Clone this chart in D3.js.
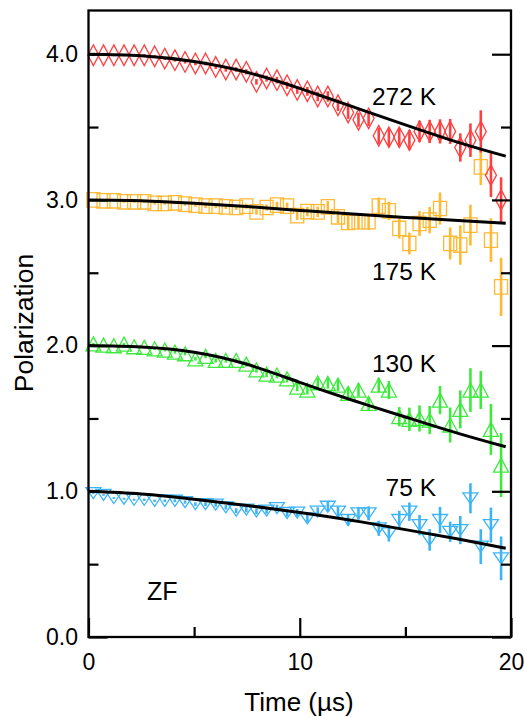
<!DOCTYPE html>
<html>
<head>
<meta charset="utf-8">
<script src="https://cdn.jsdelivr.net/npm/d3@7"></script>
<style>
  body { margin: 0; background: #fff; }
  text { font-family: "Liberation Sans", Arial, sans-serif; fill: #000; }
</style>
</head>
<body>
<svg id="chart" width="524" height="717"></svg>
<script>
// Time bins (µs)
const times = [0.23,0.71,1.2,1.68,2.16,2.64,3.13,3.61,4.09,4.57,5.06,5.54,6.02,6.5,6.99,7.47,7.95,8.43,8.92,9.4,
  9.88,10.36,10.85,11.33,11.81,12.29,12.78,13.26,13.74,14.22,14.71,15.19,15.67,16.15,16.64,17.12,17.6,18.08,18.57,19.05,19.53];

// Polarization (offset by temperature) and error bars
const pol272 = [3.993,3.993,3.993,3.993,3.993,3.993,3.986,3.97,3.959,3.947,3.936,3.936,3.913,3.895,3.895,3.879,3.81,3.833,3.822,3.787,
  3.755,3.745,3.71,3.71,3.65,3.6,3.55,3.56,3.44,3.43,3.43,3.41,3.47,3.47,3.47,3.47,3.36,3.41,3.47,3.17,3.0];
const err272 = [0.006,0.006,0.006,0.007,0.007,0.008,0.008,0.009,0.01,0.011,0.012,0.013,0.014,0.015,0.016,0.018,0.019,0.021,0.023,0.025,
  0.027,0.03,0.033,0.036,0.04,0.044,0.048,0.052,0.056,0.06,0.064,0.068,0.074,0.08,0.083,0.086,0.097,0.115,0.145,0.15,0.155];

const pol175 = [3.0,2.994,2.994,2.987,2.987,2.987,2.976,2.976,2.98,2.971,2.964,2.957,2.957,2.952,2.948,2.957,2.918,2.948,2.964,2.957,
  2.892,2.92,2.918,2.952,2.884,2.845,2.85,2.85,2.957,2.925,2.804,2.701,2.838,2.861,2.941,2.701,2.69,2.827,3.227,2.724,2.403];
const err175 = [0.006,0.006,0.006,0.007,0.007,0.008,0.008,0.009,0.01,0.011,0.012,0.013,0.014,0.015,0.016,0.018,0.019,0.021,0.023,0.025,
  0.03,0.033,0.036,0.04,0.044,0.048,0.052,0.056,0.06,0.063,0.07,0.075,0.085,0.09,0.11,0.11,0.135,0.14,0.125,0.15,0.2];

const pol130 = [2.012,2.003,1.999,2.01,1.992,1.988,1.978,1.969,1.955,1.944,1.909,1.926,1.898,1.898,1.898,1.873,1.834,1.804,1.798,1.772,
  1.715,1.695,1.745,1.741,1.729,1.672,1.695,1.603,1.729,1.695,1.512,1.494,1.5,1.489,1.626,1.455,1.562,1.695,1.695,1.425,1.18];
const err130 = [0.006,0.006,0.006,0.007,0.007,0.008,0.008,0.009,0.01,0.011,0.012,0.013,0.014,0.015,0.016,0.018,0.019,0.021,0.023,0.025,
  0.028,0.03,0.033,0.036,0.04,0.042,0.044,0.045,0.05,0.062,0.066,0.08,0.09,0.097,0.097,0.12,0.13,0.15,0.13,0.175,0.22];

const pol75 = [0.988,0.975,0.954,0.949,0.942,0.942,0.935,0.935,0.935,0.926,0.912,0.912,0.908,0.89,0.867,0.874,0.862,0.867,0.885,0.851,
  0.853,0.814,0.86,0.894,0.86,0.803,0.849,0.849,0.746,0.711,0.803,0.86,0.768,0.666,0.803,0.722,0.734,0.952,0.62,0.768,0.54];
const err75 = [0.006,0.006,0.006,0.007,0.007,0.008,0.008,0.009,0.01,0.011,0.012,0.013,0.014,0.015,0.016,0.018,0.019,0.021,0.023,0.025,
  0.026,0.028,0.03,0.033,0.036,0.04,0.044,0.048,0.052,0.056,0.063,0.063,0.07,0.074,0.09,0.07,0.097,0.103,0.12,0.12,0.15];

// Fit curves
const fitTimes = [0, 2.5, 5, 7.5, 10, 12.5, 15, 17.5, 19.75];
const fit272 = [4.0, 3.99, 3.95, 3.876, 3.765, 3.64, 3.515, 3.395, 3.30];
const fit175 = [3.0, 2.995, 2.977, 2.954, 2.928, 2.903, 2.88, 2.858, 2.84];
const fit130 = [2.0, 1.99, 1.955, 1.872, 1.748, 1.625, 1.51, 1.398, 1.306];
const fit75  = [1.0, 0.982, 0.946, 0.903, 0.855, 0.80, 0.737, 0.672, 0.609];

// Axis ticks
const yMajor = [0, 1, 2, 3, 4];
const yMinor = [0.5, 1.5, 2.5, 3.5];
const xMajor = [0, 10, 20];
const xMinor = [5, 15];

const series = [
  { label: "75 K",  values: pol75,  errors: err75,  fit: fit75,  color: "#3db5f5", shape: "down",    lx: 436, lv: 0.965 },
  { label: "130 K", values: pol130, errors: err130, fit: fit130, color: "#3ee93e", shape: "up",      lx: 436, lv: 1.821 },
  { label: "175 K", values: pol175, errors: err175, fit: fit175, color: "#ffb935", shape: "square",  lx: 436, lv: 2.45 },
  { label: "272 K", values: pol272, errors: err272, fit: fit272, color: "#ff4040", shape: "diamond", lx: 436, lv: 3.65 }
];

const svg = d3.select("#chart");
const x = d3.scaleLinear().domain([0, 20]).range([88.5, 511]);
const y = d3.scaleLinear().domain([0, 4.3]).range([637, 10.5]);

// Marker outline paths, centred on the data point
function markerPath(shape) {
  switch (shape) {
    case "diamond": { const w = 5.5, h = 10.3; return `M0,${-h}L${w},0L0,${h}L${-w},0Z`; }
    case "square":  { const w = 6.5, h = 7.2;  return `M${-w},${-h}H${w}V${h}H${-w}Z`; }
    case "up":      { const w = 7.5, h = 7;    return `M0,${-h}L${w},${h}L${-w},${h}Z`; }
    case "down":    { const w = 7.5, h = 5.5;  return `M0,${h}L${w},${-h}L${-w},${-h}Z`; }
  }
}

const plot = svg.append("g");

series.forEach(s => {
  const pts = times.map((t, i) => ({ t, v: s.values[i], e: s.errors[i] }));
  const g = plot.append("g");
  g.selectAll("line.err").data(pts).join("line")
    .attr("class", "err")
    .attr("x1", d => x(d.t)).attr("x2", d => x(d.t))
    .attr("y1", d => y(d.v - d.e)).attr("y2", d => y(d.v + d.e))
    .attr("stroke", s.color).attr("stroke-width", 2.6);
  g.selectAll("path.mk").data(pts).join("path")
    .attr("class", "mk")
    .attr("transform", d => `translate(${x(d.t)},${y(d.v)})`)
    .attr("d", markerPath(s.shape))
    .attr("fill", "none").attr("stroke", s.color).attr("stroke-width", 1.3);
});

// Fitted curves on top of data
const line = d3.line().x(d => x(d[0])).y(d => y(d[1])).curve(d3.curveNatural);
series.forEach(s => {
  plot.append("path")
    .attr("d", line(fitTimes.map((t, i) => [t, s.fit[i]])))
    .attr("fill", "none").attr("stroke", "#000").attr("stroke-width", 3);
});

// Axes with inward ticks
function styleAxis(g) {
  g.select(".domain").remove();
  g.selectAll(".tick line").attr("stroke", "#000").attr("stroke-width", 2.2);
  g.selectAll(".tick text").attr("font-size", 23).attr("fill", "#000")
    .style("font-family", '"Liberation Sans", Arial, sans-serif');
}
const yFmt = d3.format(".1f");
svg.append("g").attr("transform", `translate(${x(0)},0)`)
  .call(d3.axisLeft(y).tickValues(yMajor).tickFormat(yFmt).tickSizeInner(-19).tickSizeOuter(0).tickPadding(10.5))
  .call(styleAxis);
svg.append("g").attr("transform", `translate(${x(0)},0)`)
  .call(d3.axisLeft(y).tickValues(yMinor).tickFormat("").tickSizeInner(-10).tickSizeOuter(0))
  .call(styleAxis);
svg.append("g").attr("transform", `translate(${x(20)},0)`)
  .call(d3.axisRight(y).tickValues(yMajor).tickFormat("").tickSizeInner(-19).tickSizeOuter(0))
  .call(styleAxis);
svg.append("g").attr("transform", `translate(${x(20)},0)`)
  .call(d3.axisRight(y).tickValues(yMinor).tickFormat("").tickSizeInner(-10).tickSizeOuter(0))
  .call(styleAxis);
svg.append("g").attr("transform", `translate(0,${y(0)})`)
  .call(d3.axisBottom(x).tickValues(xMajor).tickFormat(d3.format("d")).tickSizeInner(-19).tickSizeOuter(0).tickPadding(17))
  .call(styleAxis);
svg.append("g").attr("transform", `translate(0,${y(0)})`)
  .call(d3.axisBottom(x).tickValues(xMinor).tickFormat("").tickSizeInner(-10).tickSizeOuter(0))
  .call(styleAxis);

// Frame
svg.append("rect")
  .attr("x", x(0)).attr("y", y(4.3))
  .attr("width", x(20) - x(0)).attr("height", y(0) - y(4.3))
  .attr("fill", "none").attr("stroke", "#000").attr("stroke-width", 2.3);

// Temperature labels
series.forEach(s => {
  svg.append("text").attr("x", s.lx).attr("y", y(s.lv))
    .attr("text-anchor", "end").attr("font-size", 24.5).text(s.label);
});
svg.append("text").attr("x", 147).attr("y", 600).attr("font-size", 25).text("ZF");

// Axis titles
svg.append("text").attr("x", 299).attr("y", 711).attr("text-anchor", "middle")
  .attr("font-size", 26).text("Time (µs)");
svg.append("text").attr("transform", "translate(33,323) rotate(-90)")
  .attr("text-anchor", "middle").attr("font-size", 26.5).text("Polarization");
</script>
</body>
</html>
